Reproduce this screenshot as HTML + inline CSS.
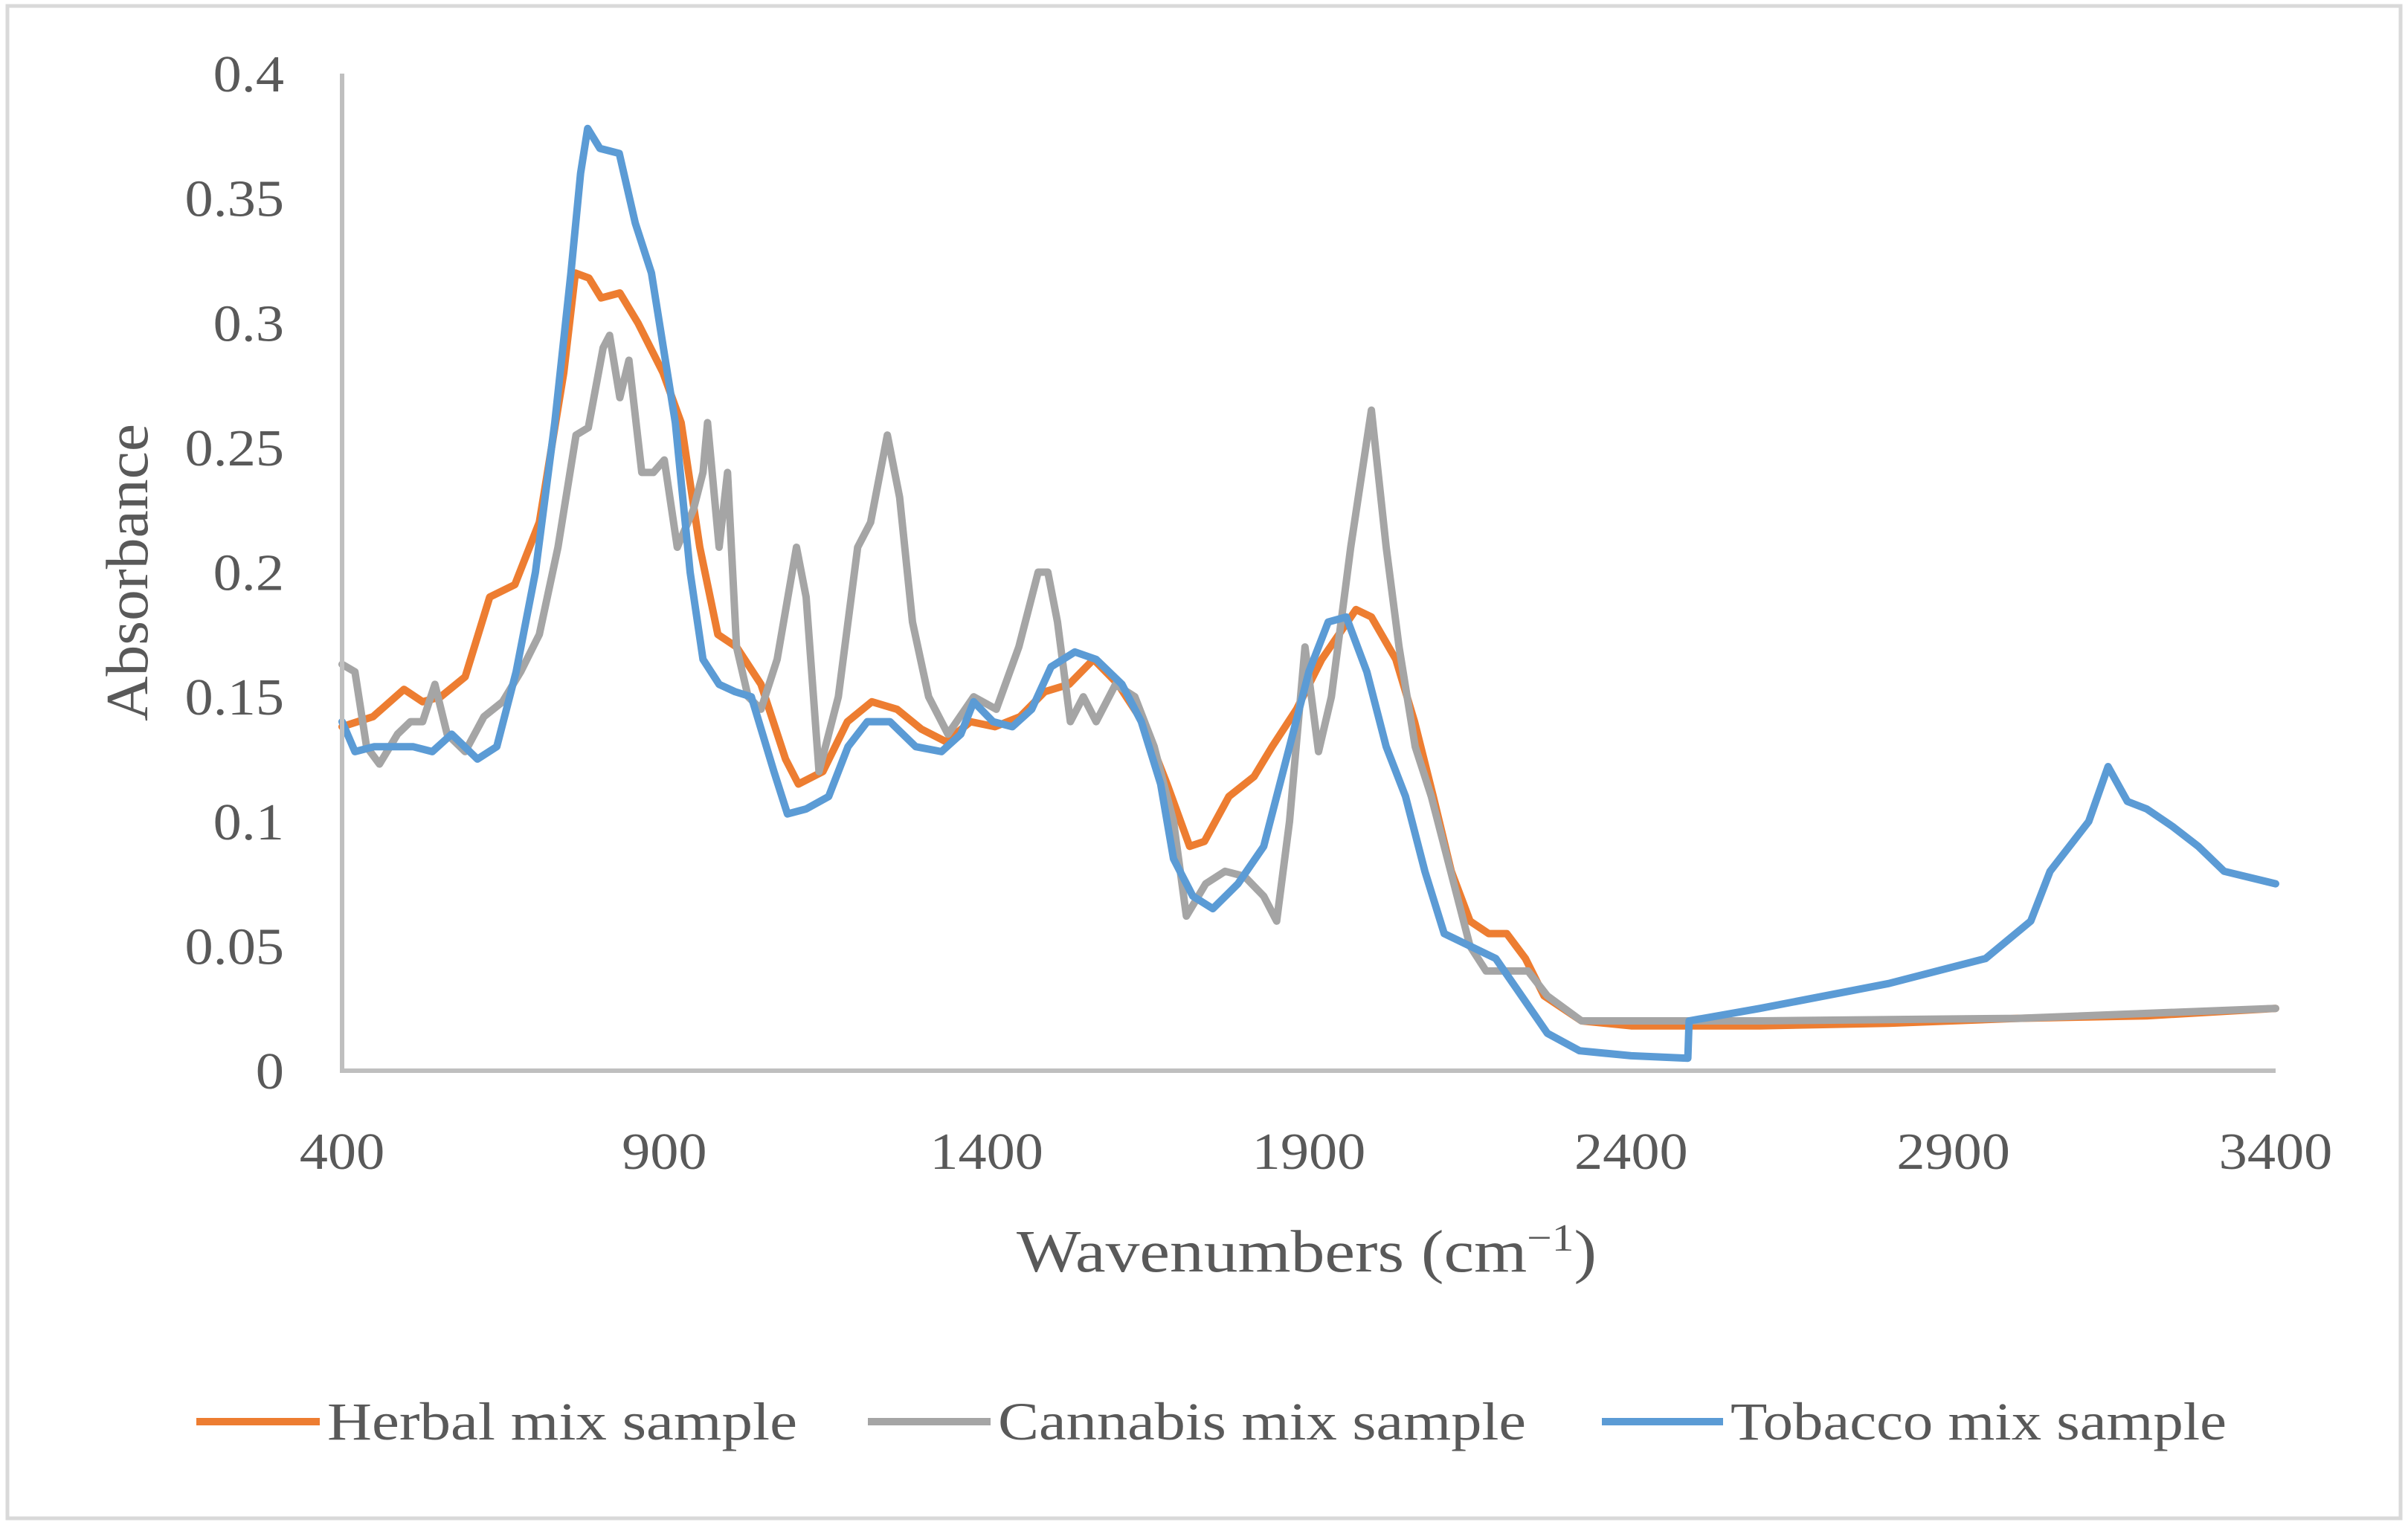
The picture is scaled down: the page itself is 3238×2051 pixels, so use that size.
<!DOCTYPE html>
<html><head><meta charset="utf-8"><style>
html,body{margin:0;padding:0;background:#fff;}
svg{display:block;font-family:"Liberation Serif",serif;}
</style></head><body>
<svg id="chart" width="3238" height="2051" viewBox="0 0 3238 2051" xmlns="http://www.w3.org/2000/svg">
<rect x="10" y="8" width="3218" height="2034" fill="#fff" stroke="#d9d9d9" stroke-width="5"/>
<g id="series"></g>
<g id="axes"></g>
<text transform="translate(198,770) rotate(-90)" text-anchor="middle" font-size="80" fill="#595959" textLength="400" lengthAdjust="spacingAndGlyphs">Absorbance</text>
<text x="1367" y="1710" font-size="80" fill="#595959" textLength="780" lengthAdjust="spacingAndGlyphs">Wavenumbers (cm<tspan font-size="52" dy="-28">−1</tspan><tspan dy="28">)</tspan></text>
<g>
<g><line x1="264" y1="1912" x2="430" y2="1912" stroke="#ED7D31" stroke-width="10"/><text x="440" y="1936" font-size="72" fill="#595959" textLength="632" lengthAdjust="spacingAndGlyphs">Herbal mix sample</text></g>
<g><line x1="1167" y1="1912" x2="1332" y2="1912" stroke="#A5A5A5" stroke-width="10"/><text x="1342" y="1936" font-size="72" fill="#595959" textLength="710" lengthAdjust="spacingAndGlyphs">Cannabis mix sample</text></g>
<g><line x1="2154" y1="1912" x2="2317" y2="1912" stroke="#5B9BD5" stroke-width="10"/><text x="2327" y="1936" font-size="72" fill="#595959" textLength="667" lengthAdjust="spacingAndGlyphs">Tobacco mix sample</text></g>
</g>
</svg>
<script>
const xTicks=[400,900,1400,1900,2400,2900,3400];
const yTicks=[0,0.05,0.1,0.15,0.2,0.25,0.3,0.35,0.4];
const yTickLabels=["0","0.05","0.1","0.15","0.2","0.25","0.3","0.35","0.4"];
const herbalX=[400,448,496,525,553,591,629,668,706,744,762,783,802,831,859,898,926,955,983,1012,1050,1088,1108,1146,1184,1222,1261,1299,1337,1375,1413,1452,1490,1528,1566,1604,1642,1680,1715,1738,1776,1815,1843,1881,1920,1973,1997,2035,2064,2093,2121,2150,2179,2207,2236,2265,2323,2400,2600,2800,3000,3200,3400];
const herbalY=[.138,.142,.153,.148,.150,.158,.190,.195,.22,.28,.32,.318,.31,.312,.300,.28,.26,.21,.175,.17,.155,.125,.115,.12,.14,.148,.145,.137,.132,.140,.138,.142,.152,.155,.165,.155,.14,.115,.09,.092,.11,.118,.13,.145,.165,.185,.182,.165,.14,.11,.08,.06,.055,.055,.045,.03,.02,.018,.018,.019,.021,.022,.025];
const cannabisX=[400,420,438,458,486,506,525,544,563,591,620,649,677,706,735,763,782,805,815,831,845,865,883,900,920,945,960,967,985,998,1012,1030,1050,1075,1105,1120,1140,1170,1200,1220,1246,1265,1285,1310,1340,1380,1415,1450,1480,1495,1510,1530,1550,1570,1600,1630,1660,1690,1710,1740,1770,1800,1830,1850,1870,1894,1915,1935,1965,1997,2020,2040,2065,2090,2120,2150,2175,2210,2240,2270,2323,2600,3000,3400];
const cannabisY=[.163,.16,.13,.123,.135,.14,.14,.155,.135,.128,.142,.148,.16,.175,.21,.255,.258,.29,.295,.27,.285,.24,.24,.245,.21,.225,.24,.26,.21,.24,.17,.15,.145,.165,.21,.19,.12,.15,.21,.22,.255,.23,.18,.15,.135,.15,.145,.17,.20,.20,.18,.14,.15,.14,.155,.15,.13,.10,.062,.075,.08,.078,.07,.06,.10,.17,.128,.15,.21,.265,.21,.17,.13,.11,.08,.05,.04,.04,.04,.03,.02,.02,.021,.025];
const tobaccoX=[400,420,450,480,510,540,570,610,640,670,700,730,755,770,781,800,830,855,880,917,940,960,985,1010,1035,1070,1091,1120,1155,1185,1215,1250,1290,1330,1360,1380,1410,1440,1470,1500,1537,1570,1610,1640,1670,1690,1720,1751,1790,1830,1870,1900,1930,1958,1990,2020,2050,2080,2110,2150,2190,2230,2270,2320,2400,2488,2490,2600,2800,2950,3020,3050,3080,3110,3140,3170,3200,3240,3280,3320,3400];
const tobaccoY=[.14,.128,.13,.13,.13,.128,.135,.125,.13,.16,.2,.26,.32,.36,.378,.37,.368,.34,.32,.26,.2,.165,.155,.152,.15,.12,.103,.105,.11,.13,.14,.14,.13,.128,.135,.148,.14,.138,.145,.162,.168,.165,.155,.14,.115,.085,.07,.065,.075,.09,.13,.16,.18,.182,.16,.13,.11,.08,.055,.05,.045,.03,.015,.008,.006,.005,.02,.025,.035,.045,.06,.08,.09,.1,.122,.108,.105,.098,.09,.08,.075];
const NS="http://www.w3.org/2000/svg";
const X0=460,X1=3060,Y0=1440,Y1=99;
function xs(v){return X0+(v-400)/3000*(X1-X0);}
function ys(v){return Y0-v/0.4*(Y0-Y1);}
const axes=document.getElementById('axes');
const ax=document.createElementNS(NS,'path');
ax.setAttribute('d',`M${X0},${Y1} V${Y0} H${X1}`);
ax.setAttribute('fill','none');ax.setAttribute('stroke','#bfbfbf');ax.setAttribute('stroke-width','6');


axes.appendChild(ax);
yTicks.forEach((t,i)=>{const e=document.createElementNS(NS,'text');
e.setAttribute('x',382);e.setAttribute('y',ys(t)+24);e.setAttribute('text-anchor','end');
e.setAttribute('font-size','70');e.setAttribute('fill','#595959');e.textContent=yTickLabels[i];


axes.appendChild(e);
const w=e.getComputedTextLength();e.setAttribute('textLength',(w*1.09).toFixed(1));e.setAttribute('lengthAdjust','spacingAndGlyphs');});
xTicks.forEach(t=>{const e=document.createElementNS(NS,'text');
e.setAttribute('x',xs(t));e.setAttribute('y',1572);e.setAttribute('text-anchor','middle');
e.setAttribute('font-size','70');e.setAttribute('fill','#595959');e.textContent=String(t);


axes.appendChild(e);
const w=e.getComputedTextLength();e.setAttribute('textLength',(w*1.09).toFixed(1));e.setAttribute('lengthAdjust','spacingAndGlyphs');});
const ser=document.getElementById('series');
function draw(xa,ya,color,name){const p=document.createElementNS(NS,'path');
p.setAttribute('d',xa.map((x,i)=>(i?'L':'M')+xs(x).toFixed(1)+','+ys(ya[i]).toFixed(1)).join(' '));
p.setAttribute('fill','none');p.setAttribute('stroke',color);p.setAttribute('stroke-width','10');
p.setAttribute('stroke-linejoin','round');p.setAttribute('stroke-linecap','round');


ser.appendChild(p);}
draw(herbalX,herbalY,'#ED7D31','herbal-mix-line');
draw(cannabisX,cannabisY,'#A5A5A5','cannabis-mix-line');
draw(tobaccoX,tobaccoY,'#5B9BD5','tobacco-mix-line');
</script>
</body></html>
